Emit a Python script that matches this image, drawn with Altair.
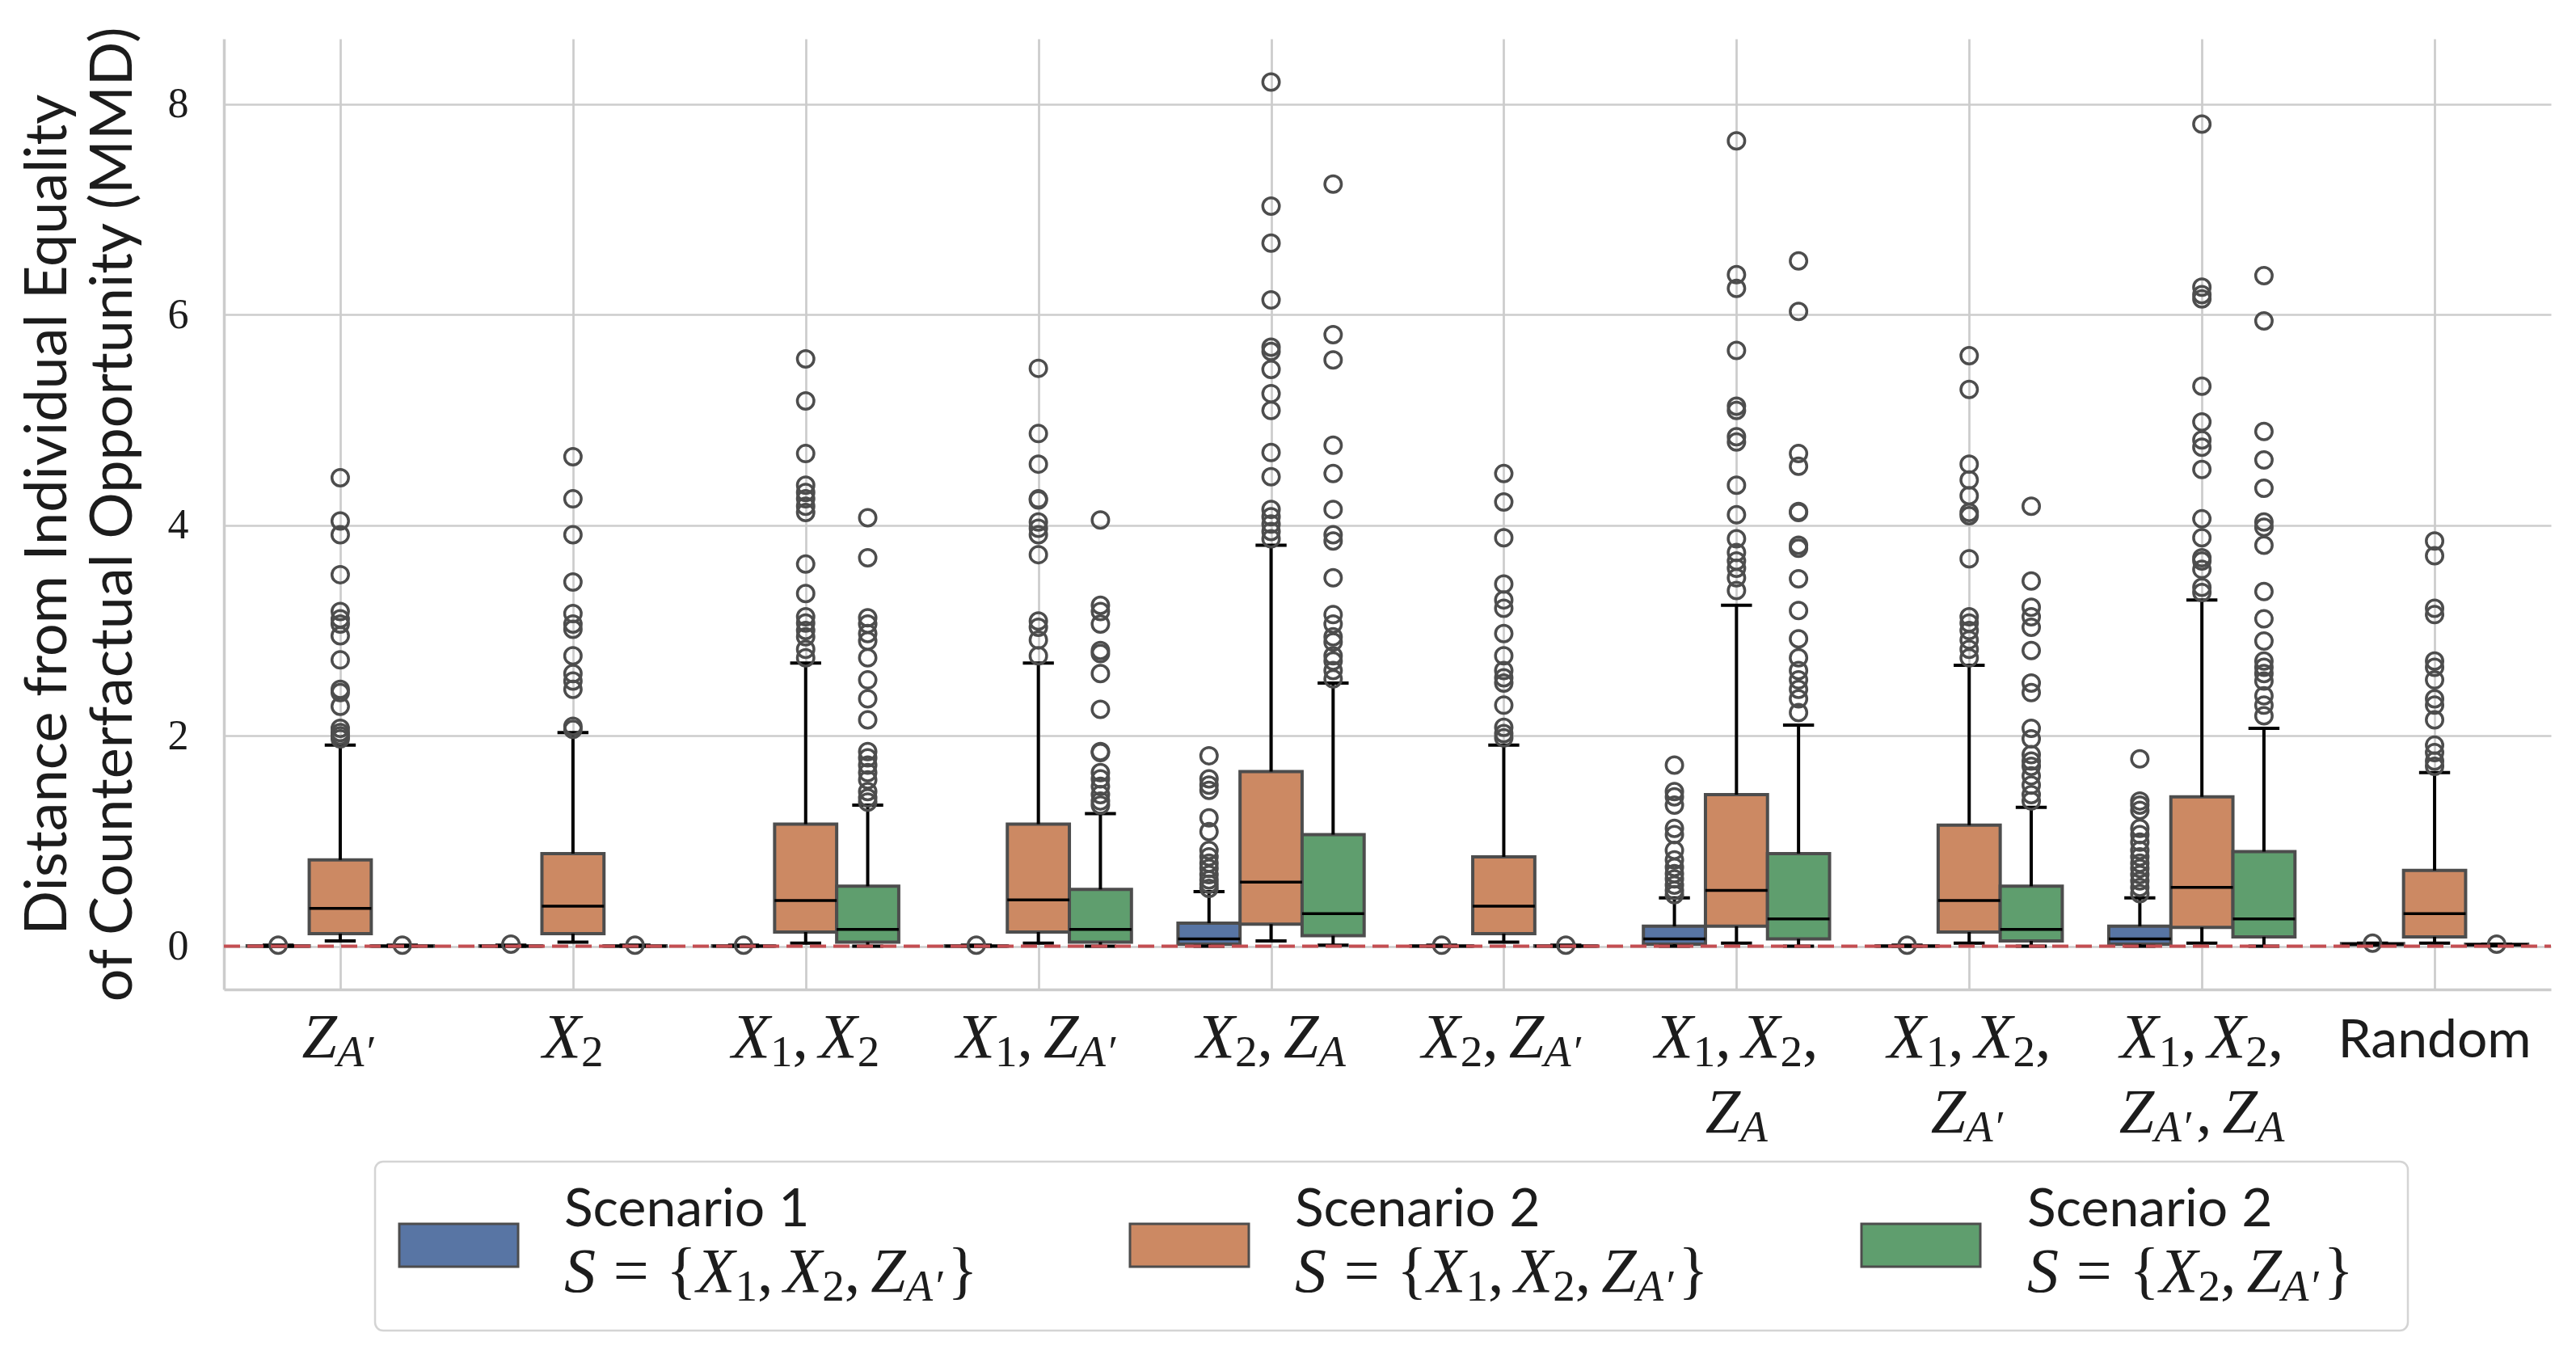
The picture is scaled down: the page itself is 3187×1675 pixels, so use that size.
import altair as alt
import pandas as pd

# ---------------- data ----------------
categories = ["Z_A'", "X_2", "X_1, X_2", "X_1, Z_A'", "X_2, Z_A", "X_2, Z_A'",
              "X_1, X_2, Z_A", "X_1, X_2, Z_A'", "X_1, X_2, Z_A', Z_A", "Random"]
scenario_keys = ["Scenario 1 S={X1,X2,ZA'}", "Scenario 2 S={X1,X2,ZA'}", "Scenario 2 S={X2,ZA'}"]
scenario_colors = ["#5875a4", "#cc8963", "#5f9e6e"]

# Scenario 1, S = {X1, X2, ZA'}  (blue)
s1_q1 = [0, 0, 0, 0, 0.02, 0, 0.02, 0, 0.02, 0.015]
s1_med = [0, 0, 0, 0, 0.07, 0, 0.07, 0, 0.07, 0.02]
s1_q3 = [0.005, 0.005, 0.005, 0.005, 0.22, 0.005, 0.19, 0.005, 0.19, 0.025]
s1_lo = [0, 0, 0, 0, 0, 0, 0, 0, 0, 0.01]
s1_hi = [0.01, 0.01, 0.01, 0.01, 0.52, 0.01, 0.46, 0.01, 0.46, 0.03]
s1_out = [
    [0.01], [0.02], [0.01], [0.01],
    [1.81, 1.59, 1.53, 1.48, 1.22, 1.09, 0.91, 0.85, 0.79, 0.74, 0.68, 0.63, 0.59, 0.55],
    [0.01],
    [1.72, 1.47, 1.42, 1.34, 1.12, 1.06, 0.91, 0.82, 0.75, 0.69, 0.64, 0.58, 0.53, 0.49],
    [0.01],
    [1.78, 1.38, 1.34, 1.29, 1.12, 1.06, 0.99, 0.91, 0.85, 0.79, 0.74, 0.68, 0.62, 0.56, 0.5],
    [0.03],
]

# Scenario 2, S = {X1, X2, ZA'}  (orange)
s2_q1 = [0.12, 0.12, 0.135, 0.135, 0.21, 0.12, 0.19, 0.135, 0.18, 0.09]
s2_med = [0.36, 0.38, 0.435, 0.44, 0.61, 0.38, 0.53, 0.435, 0.56, 0.31]
s2_q3 = [0.82, 0.88, 1.16, 1.16, 1.66, 0.85, 1.44, 1.15, 1.42, 0.72]
s2_lo = [0.05, 0.04, 0.03, 0.03, 0.05, 0.04, 0.03, 0.03, 0.03, 0.03]
s2_hi = [1.91, 2.03, 2.69, 2.69, 3.81, 1.91, 3.24, 2.67, 3.29, 1.65]
s2_out = [
    [4.45, 4.04, 3.91, 3.53, 3.18, 3.11, 3.06, 2.95, 2.72, 2.44, 2.41, 2.28, 2.07, 2.03, 2.0, 1.97],
    [4.65, 4.25, 3.91, 3.46, 3.16, 3.06, 3.01, 2.76, 2.59, 2.52, 2.44, 2.09, 2.06],
    [5.58, 5.18, 4.68, 4.38, 4.31, 4.25, 4.18, 4.12, 3.63, 3.35, 3.13, 3.07, 3.0, 2.94, 2.82, 2.74],
    [5.49, 4.87, 4.58, 4.25, 4.24, 4.03, 3.97, 3.91, 3.72, 3.09, 3.03, 2.91, 2.76],
    [8.21, 7.03, 6.68, 6.14, 5.69, 5.65, 5.48, 5.25, 5.09, 4.69, 4.46, 4.15, 4.08, 4.01, 3.94, 3.87],
    [4.49, 4.22, 3.88, 3.44, 3.29, 3.21, 2.97, 2.76, 2.62, 2.55, 2.5, 2.29, 2.08, 2.02, 1.98],
    [7.65, 6.38, 6.25, 5.66, 5.13, 5.09, 4.84, 4.79, 4.38, 4.1, 3.87, 3.74, 3.66, 3.59, 3.5, 3.38],
    [5.61, 5.29, 4.58, 4.43, 4.28, 4.12, 4.09, 3.68, 3.13, 3.07, 3.0, 2.91, 2.82, 2.74],
    [7.81, 6.26, 6.19, 6.15, 5.32, 4.98, 4.81, 4.74, 4.53, 4.06, 3.88, 3.69, 3.66, 3.58, 3.41, 3.36],
    [3.85, 3.71, 3.21, 3.15, 2.71, 2.65, 2.53, 2.35, 2.29, 2.15, 1.91, 1.84, 1.76, 1.71],
]

# Scenario 2, S = {X2, ZA'}  (green)
s3_q1 = [0, 0, 0.04, 0.04, 0.1, 0, 0.07, 0.05, 0.09, 0.01]
s3_med = [0, 0, 0.16, 0.16, 0.31, 0, 0.26, 0.16, 0.26, 0.015]
s3_q3 = [0.005, 0.005, 0.57, 0.54, 1.06, 0.005, 0.88, 0.57, 0.9, 0.02]
s3_lo = [0, 0, 0, 0, 0.01, 0, 0, 0, 0, 0.005]
s3_hi = [0.01, 0.01, 1.34, 1.26, 2.5, 0.01, 2.1, 1.32, 2.07, 0.02]
s3_out = [
    [0.01], [0.01],
    [4.07, 3.69, 3.12, 3.06, 2.97, 2.9, 2.74, 2.53, 2.35, 2.15, 1.85, 1.79, 1.72, 1.65, 1.58, 1.47, 1.41, 1.37],
    [4.05, 3.24, 3.18, 3.06, 2.81, 2.78, 2.59, 2.25, 1.85, 1.84, 1.65, 1.59, 1.52, 1.44, 1.38, 1.34],
    [7.24, 5.81, 5.57, 4.76, 4.49, 4.15, 3.91, 3.85, 3.5, 3.15, 3.06, 2.94, 2.89, 2.76, 2.71, 2.62, 2.54],
    [0.01],
    [6.51, 6.03, 4.68, 4.56, 4.13, 4.12, 3.81, 3.78, 3.49, 3.19, 2.92, 2.74, 2.62, 2.53, 2.44, 2.35, 2.22],
    [4.18, 3.47, 3.22, 3.13, 3.03, 2.81, 2.5, 2.41, 2.07, 1.97, 1.82, 1.76, 1.71, 1.62, 1.53, 1.44, 1.38],
    [6.37, 5.94, 4.89, 4.62, 4.35, 4.03, 3.98, 3.81, 3.37, 3.11, 2.9, 2.71, 2.65, 2.59, 2.52, 2.38, 2.29, 2.19],
    [0.02],
]

y_ticks = [0, 2, 4, 6, 8]
y_title = ["Distance from Individual Equality", "of Counterfactual Opportunity (MMD)"]

# ---------------- layout constants ----------------
PX_X0, PX_W = 277.0, 2879.0      # absolute page px of plot area
PX_Y0, PX_H = 48.0, 1176.0
XMIN, XMAX = -0.5, 9.5
YMIN, YMAX = -0.41, 8.62
UNIT = PX_W / (XMAX - XMIN)

def px2x(px):
    return XMIN + (px - PX_X0) / PX_W * (XMAX - XMIN)

def py2y(py):
    return YMAX - (py - PX_Y0) / PX_H * (YMAX - YMIN)

SLOT = 0.8 / 3
HALF = SLOT / 2
CAP = SLOT / 4
TXT = "#1c1c1c"
EDGE = "#4d4d4d"
GRID = "#cccccc"

XS = alt.Scale(domain=[XMIN, XMAX], nice=False, zero=False)
YS = alt.Scale(domain=[YMIN, YMAX], nice=False, zero=False)

XAX = alt.Axis(values=list(range(10)), labels=False, ticks=False, grid=True,
               gridColor=GRID, gridWidth=2.7, domainColor=GRID, domainWidth=3.5,
               title=None)
YAX = alt.Axis(values=y_ticks, ticks=False, grid=True, gridColor=GRID, gridWidth=2.7,
               domainColor=GRID, domainWidth=3.5, labelFont="Liberation Serif",
               labelFontSize=52, labelColor=TXT, labelPadding=44,
               title=y_title, titleFont="Lato", titleFontSize=72,
               titleFontWeight="normal", titleColor=TXT, titleLineHeight=81,
               titlePadding=30)

def X(f):
    return alt.X(f, scale=XS, axis=XAX)

def Y(f):
    return alt.Y(f, scale=YS, axis=YAX)

# ---------------- build tables ----------------
stats = [
    (s1_q1, s1_med, s1_q3, s1_lo, s1_hi, s1_out),
    (s2_q1, s2_med, s2_q3, s2_lo, s2_hi, s2_out),
    (s3_q1, s3_med, s3_q3, s3_lo, s3_hi, s3_out),
]
box_rows, flier_rows = [], []
for h, (q1s, meds, q3s, los, his, outs) in enumerate(stats):
    for i, cat in enumerate(categories):
        c = i + (h - 1) * SLOT
        box_rows.append(dict(cat=cat, scen=scenario_keys[h], xc=c, xl=c - HALF, xr=c + HALF,
                             cl=c - CAP, cr=c + CAP, q1=q1s[i], med=meds[i], q3=q3s[i],
                             lo=los[i], hi=his[i]))
        for v in outs[i]:
            flier_rows.append(dict(cat=cat, scen=scenario_keys[h], xc=c, v=v))
box_df = pd.DataFrame(box_rows)
flier_df = pd.DataFrame(flier_rows)

color = alt.Color("scen:N", scale=alt.Scale(domain=scenario_keys, range=scenario_colors), legend=None)

boxes = alt.Chart(box_df).mark_rect(stroke=EDGE, strokeWidth=4).encode(
    x=X("xl:Q"), x2="xr:Q", y=Y("q1:Q"), y2="q3:Q", color=color)
whisk_up = alt.Chart(box_df).mark_rule(color="black", strokeWidth=4).encode(
    x=X("xc:Q"), y=Y("q3:Q"), y2="hi:Q")
whisk_lo = alt.Chart(box_df).mark_rule(color="black", strokeWidth=4).encode(
    x=X("xc:Q"), y=Y("lo:Q"), y2="q1:Q")
cap_up = alt.Chart(box_df).mark_rule(color="black", strokeWidth=4).encode(
    x=X("cl:Q"), x2="cr:Q", y=Y("hi:Q"))
cap_lo = alt.Chart(box_df).mark_rule(color="black", strokeWidth=4).encode(
    x=X("cl:Q"), x2="cr:Q", y=Y("lo:Q"))
medians = alt.Chart(box_df).mark_rule(color="black", strokeWidth=3.5).encode(
    x=X("xl:Q"), x2="xr:Q", y=Y("med:Q"))
fliers = alt.Chart(flier_df).mark_point(shape="circle", filled=False, stroke=EDGE,
                                        strokeWidth=3.5, size=420, opacity=1).encode(
    x=X("xc:Q"), y=Y("v:Q"))

zero_df = pd.DataFrame([dict(x=XMIN, x2=XMAX, y=0.0)])
zero_line = alt.Chart(zero_df).mark_rule(color="#c44e52", strokeWidth=4, strokeDash=[20, 9]).encode(
    x=X("x:Q"), x2="x2:Q", y=Y("y:Q"))

# ---------------- math-style text (labels and legend) ----------------
M = 78          # main math size
MS = 55         # subscript size
SANS = 66
SUB_DROP = 11
W_IT = {"X": 0.611, "Z": 0.556, "A": 0.611, "S": 0.5, "′": 0.33}
W_RM = {",": 0.25, "{": 0.48, "}": 0.48, "=": 0.564, "′": 0.33}

def xs(n):
    return [("X", "mi"), (str(n), "sr")]

def zs(sub):
    return [("Z", "mi"), (sub, "si")]

COMMA = [(",", "mr"), (0.167, "sp")]

def seg_width(text, kind):
    if kind == "sp":
        return text * M
    size = M if kind in ("mi", "mr") else MS
    table = W_IT if kind in ("mi", "si") else W_RM
    return sum(table.get(ch, 0.5) for ch in text) * size

rows = {"mi": [], "mr": [], "si": [], "sr": [], "sans_c": [], "sans_l": []}

def place(segs, x0, base):
    x = x0
    for text, kind in segs:
        w = seg_width(text, kind)
        if kind != "sp":
            yb = base + (SUB_DROP if kind in ("si", "sr") else 0)
            rows[kind].append(dict(x=px2x(x), y=py2y(yb), t=text))
        x += w

def place_center(segs, cx, base):
    total = sum(seg_width(t, k) for t, k in segs)
    place(segs, cx - total / 2, base)

tick_label_lines = [
    [zs("A′")],
    [xs(2)],
    [xs(1) + COMMA + xs(2)],
    [xs(1) + COMMA + zs("A′")],
    [xs(2) + COMMA + zs("A")],
    [xs(2) + COMMA + zs("A′")],
    [xs(1) + COMMA + xs(2) + [(",", "mr")], zs("A")],
    [xs(1) + COMMA + xs(2) + [(",", "mr")], zs("A′")],
    [xs(1) + COMMA + xs(2) + [(",", "mr")], zs("A′") + COMMA + zs("A")],
    None,
]
LINE1, LINE2 = 1308, 1401
for i, lines in enumerate(tick_label_lines):
    cx = PX_X0 + (i - XMIN) * UNIT
    if lines is None:
        rows["sans_c"].append(dict(x=px2x(cx), y=py2y(1308), t=categories[i]))
        continue
    for j, segs in enumerate(lines):
        place_center(segs, cx, LINE1 if j == 0 else LINE2)

# legend
legend_titles = ["Scenario 1", "Scenario 2", "Scenario 2"]
S_EQ = [("S", "mi"), (0.278, "sp"), ("=", "mr"), (0.278, "sp"), ("{", "mr")]
legend_math = [
    S_EQ + xs(1) + COMMA + xs(2) + COMMA + zs("A′") + [("}", "mr")],
    S_EQ + xs(1) + COMMA + xs(2) + COMMA + zs("A′") + [("}", "mr")],
    S_EQ + xs(2) + COMMA + zs("A′") + [("}", "mr")],
]
LEG_PATCH_X = [494, 1398, 2303]
LEG_TEXT_X = [698, 1602, 2508]
patch_rows = []
for k in range(3):
    rows["sans_l"].append(dict(x=px2x(LEG_TEXT_X[k]), y=py2y(1517), t=legend_titles[k]))
    place(legend_math[k], LEG_TEXT_X[k], 1598)
    patch_rows.append(dict(scen=scenario_keys[k], xl=px2x(LEG_PATCH_X[k]), xr=px2x(LEG_PATCH_X[k] + 147),
                           yt=py2y(1514), yb=py2y(1567)))

frame_df = pd.DataFrame([dict(xl=px2x(464), xr=px2x(2979), yt=py2y(1437), yb=py2y(1646))])
frame = alt.Chart(frame_df).mark_rect(fill="white", stroke="#d4d4d4", strokeWidth=2.5,
                                      cornerRadius=10).encode(
    x=X("xl:Q"), x2="xr:Q", y=Y("yt:Q"), y2="yb:Q")
patches = alt.Chart(pd.DataFrame(patch_rows)).mark_rect(stroke=EDGE, strokeWidth=3).encode(
    x=X("xl:Q"), x2="xr:Q", y=Y("yt:Q"), y2="yb:Q", color=color)

def text_layer(key, font, size, style="normal", align="left"):
    return alt.Chart(pd.DataFrame(rows[key])).mark_text(
        font=font, fontSize=size, fontStyle=style, align=align, baseline="alphabetic", color=TXT
    ).encode(x=X("x:Q"), y=Y("y:Q"), text="t:N")

texts = [
    text_layer("mi", "Liberation Serif", M, "italic"),
    text_layer("mr", "Liberation Serif", M),
    text_layer("si", "Liberation Serif", MS, "italic"),
    text_layer("sr", "Liberation Serif", MS),
    text_layer("sans_c", "Lato", SANS, align="center"),
    text_layer("sans_l", "Lato", SANS),
]

chart = alt.layer(
    boxes, whisk_up, whisk_lo, cap_up, cap_lo, medians, fliers, zero_line,
    frame, patches, *texts
).properties(
    width=PX_W, height=PX_H,
    autosize=alt.AutoSizeParams(type="none"),
    padding={"left": PX_X0 - 8, "top": PX_Y0 - 8, "right": 20, "bottom": 440},
    background="white",
).configure_view(stroke=None)

chart.save("out.html", embed_options={"renderer": "svg", "actions": False})
